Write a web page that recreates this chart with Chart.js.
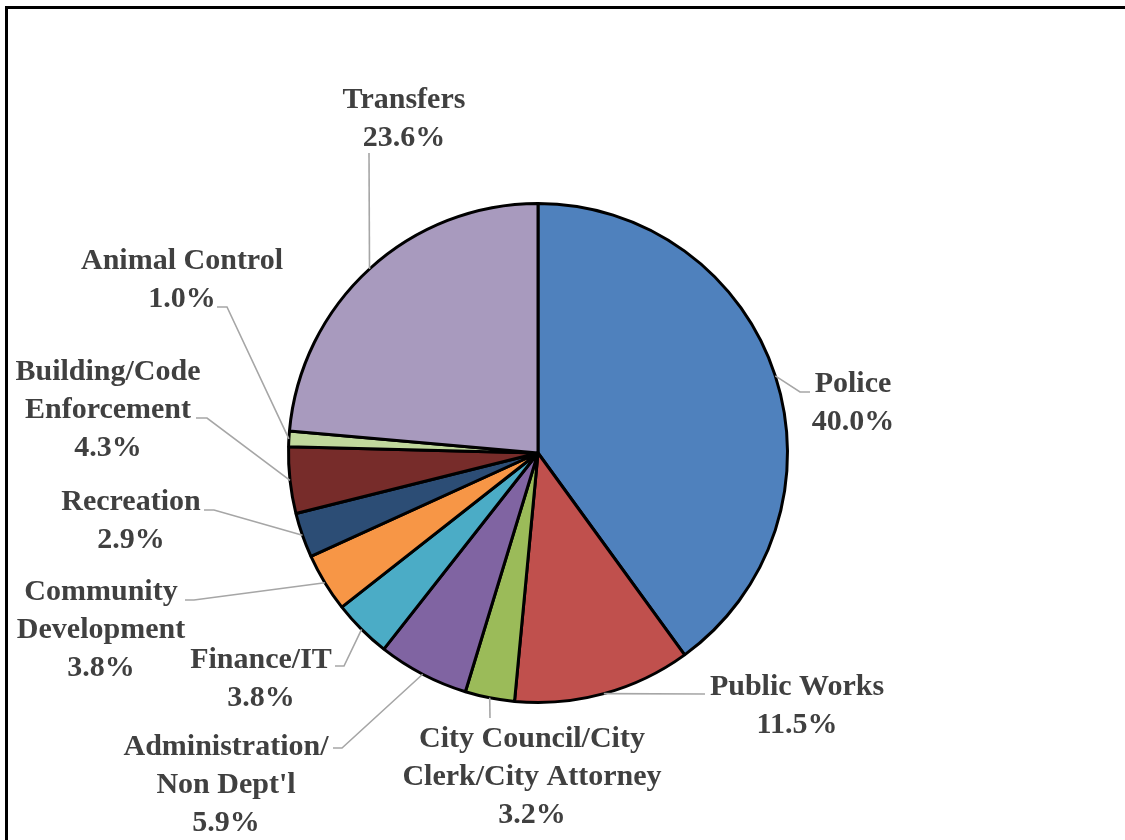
<!DOCTYPE html>
<html>
<head>
<meta charset="utf-8">
<script src="https://cdn.jsdelivr.net/npm/chart.js@4"></script>
<style>
  body{margin:0;background:#fff;}
  #wrap{position:relative;width:1125px;height:840px;overflow:hidden;}
  #frame{position:absolute;left:5px;top:6px;width:1200px;height:900px;border:3px solid #000;}
  canvas{position:absolute;left:0;top:0;}
</style>
</head>
<body>
<div id="wrap">
  <canvas id="pie" width="1125" height="840"></canvas>
  <div id="frame"></div>
</div>
<script>
// General fund spending by department (% of total)
const categories = [
  ["Police"],
  ["Public Works"],
  ["City Council/City", "Clerk/City Attorney"],
  ["Administration/", "Non Dept'l"],
  ["Finance/IT"],
  ["Community", "Development"],
  ["Recreation"],
  ["Building/Code", "Enforcement"],
  ["Animal Control"],
  ["Transfers"]
];
const shares = [40.0, 11.5, 3.2, 5.9, 3.8, 3.8, 2.9, 4.3, 1.0, 23.6];
const colors = ["#4F81BD", "#C0504D", "#9BBB59", "#8064A2", "#4BACC6",
                "#F79646", "#2C4D75", "#772C2A", "#C0D89C", "#A89ABE"];

// where each label sits (centre x, first baseline) and the leader's bend/end points
const labelLayout = [
  { x: 853, y: 392, leader: [[800, 392], [810, 392]] },
  { x: 797, y: 695, leader: [[705, 694]] },
  { x: 532, y: 747, leader: [[490, 718]] },
  { x: 226, y: 755, leader: [[342, 748], [333, 748]] },
  { x: 261, y: 668, leader: [[344, 666], [335, 666]] },
  { x: 101, y: 600, leader: [[194, 600], [185, 600]] },
  { x: 131, y: 510, leader: [[214, 510], [204, 510]] },
  { x: 108, y: 380, leader: [[207, 418], [196, 418]] },
  { x: 182, y: 269, leader: [[227, 307], [217, 307]] },
  { x: 404, y: 108, leader: [[369, 153]] }
];
const lineGap = 37.8;

const pieLabels = {
  id: "pieLabels",
  afterDatasetsDraw(chart){
    const ctx = chart.ctx;
    const arcs = chart.getDatasetMeta(0).data;
    ctx.save();
    arcs.forEach((arc, i) => {
      const lay = labelLayout[i];
      const mid = (arc.startAngle + arc.endAngle) / 2;
      const ax = arc.x + arc.outerRadius * Math.cos(mid);
      const ay = arc.y + arc.outerRadius * Math.sin(mid);

      ctx.strokeStyle = "#A6A6A6";
      ctx.lineWidth = 1.6;
      ctx.beginPath();
      ctx.moveTo(ax, ay);
      lay.leader.forEach(p => ctx.lineTo(p[0], p[1]));
      ctx.stroke();

      const lines = categories[i].concat([shares[i].toFixed(1) + "%"]);
      ctx.fillStyle = "#404040";
      ctx.font = 'bold 30px "Liberation Serif"';
      ctx.textAlign = "center";
      ctx.textBaseline = "alphabetic";
      lines.forEach((t, k) => ctx.fillText(t, lay.x, lay.y + k * lineGap));
    });
    ctx.restore();
  }
};

new Chart(document.getElementById("pie"), {
  type: "pie",
  data: {
    labels: categories.map(c => c.join(" ")),
    datasets: [{
      data: shares,
      backgroundColor: colors,
      borderColor: "#000",
      borderWidth: 3
    }]
  },
  options: {
    responsive: false,
    animation: false,
    layout: { padding: { top: 202, bottom: 136, left: 287, right: 336 } },
    plugins: { legend: { display: false }, tooltip: { enabled: false } }
  },
  plugins: [pieLabels]
});
</script>
</body>
</html>
